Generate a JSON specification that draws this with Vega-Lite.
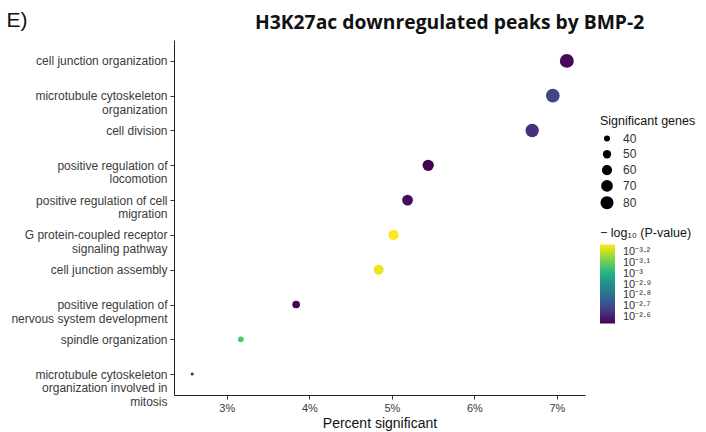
{
  "$schema": "https://vega.github.io/schema/vega-lite/v6.json",
  "autosize": {"type": "none"},
  "width": 411,
  "height": 355,
  "padding": {"left": 174, "top": 40, "right": 121, "bottom": 37},
  "background": "white",
  "title": {
    "text": "H3K27ac downregulated peaks by BMP-2",
    "anchor": "start",
    "frame": "group",
    "dx": 81,
    "offset": -24,
    "font": "Open Sans",
    "fontSize": 19.3,
    "fontWeight": "bold",
    "color": "#111111"
  },
  "config": {
    "view": {"stroke": null},
    "font": "Liberation Sans",
    "axis": {
      "grid": false,
      "domainColor": "#222222",
      "tickColor": "#333333",
      "tickSize": 4,
      "labelColor": "#3a3a3a",
      "labelFontSize": 11,
      "labelFont": "Liberation Sans"
    }
  },
  "data": {
    "values": [
      {"term": "cell junction organization", "pct": 7.12, "genes": 87, "nlp": 2.555},
      {"term": "microtubule cytoskeleton|organization", "pct": 6.95, "genes": 85, "nlp": 2.69},
      {"term": "cell division", "pct": 6.70, "genes": 82, "nlp": 2.64},
      {"term": "positive regulation of|locomotion", "pct": 5.44, "genes": 67, "nlp": 2.54},
      {"term": "positive regulation of cell|migration", "pct": 5.19, "genes": 64, "nlp": 2.56},
      {"term": "G protein-coupled receptor|signaling pathway", "pct": 5.02, "genes": 61, "nlp": 3.27},
      {"term": "cell junction assembly", "pct": 4.84, "genes": 59, "nlp": 3.25},
      {"term": "positive regulation of|nervous system development", "pct": 3.84, "genes": 47, "nlp": 2.55},
      {"term": "spindle organization", "pct": 3.17, "genes": 39, "nlp": 3.07},
      {"term": "microtubule cytoskeleton|organization involved in|mitosis", "pct": 2.58, "genes": 32, "nlp": 2.59}
    ]
  },
  "mark": {"type": "point", "filled": true, "opacity": 1, "shape": "circle"},
  "encoding": {
    "x": {
      "field": "pct",
      "type": "quantitative",
      "scale": {"domain": [2.36, 7.34], "nice": false, "zero": false},
      "axis": {
        "values": [3, 4, 5, 6, 7],
        "labelExpr": "datum.value + '%'",
        "title": "Percent significant",
        "titleFontSize": 14,
        "titleFontWeight": "normal",
        "titleColor": "#111111",
        "titlePadding": 3,
        "labelPadding": 3
      }
    },
    "y": {
      "field": "term",
      "type": "nominal",
      "sort": null,
      "scale": {"type": "point", "padding": 0.6},
      "axis": {
        "labelExpr": "split(datum.label, '|')",
        "labelFontSize": 12,
        "labelLineHeight": 13.5,
        "labelLimit": 200,
        "labelPadding": 3,
        "title": "E)",
        "titleAngle": 0,
        "titleX": -168,
        "titleY": -20,
        "titleAlign": "left",
        "titleBaseline": "middle",
        "titleFontSize": 21,
        "titleFontWeight": "normal",
        "titleColor": "#111111"
      }
    },
    "size": {
      "field": "genes",
      "type": "quantitative",
      "scale": {"domain": [32, 87], "range": [9, 195], "zero": false},
      "legend": {
        "title": "Significant genes",
        "values": [40, 50, 60, 70, 80],
        "orient": "none",
        "legendX": 426,
        "legendY": 75,
        "titleFontSize": 12.5,
        "titleFontWeight": "normal",
        "titleColor": "#111111",
        "labelFontSize": 12,
        "labelColor": "#333333",
        "labelOffset": 9,
        "symbolFillColor": "black",
        "symbolStrokeWidth": 0,
        "symbolOpacity": 1,
        "rowPadding": 3.8
      }
    },
    "color": {
      "field": "nlp",
      "type": "quantitative",
      "scale": {"scheme": "viridis", "domain": [2.54, 3.27]},
      "legend": {
        "title": "− log₁₀ (P-value)",
        "values": [2.6, 2.7, 2.8, 2.9, 3.0, 3.1, 3.2],
        "labelExpr": "'10⁻' + replace(replace(replace(replace(replace(replace(replace(replace(replace(replace(replace(format(datum.value, '.1~f'), '.', '·'), '0', '⁰'), '1', '¹'), '2', '²'), '3', '³'), '6', '⁶'), '7', '⁷'), '8', '⁸'), '9', '⁹'), '4', '⁴'), '5', '⁵')",
        "orient": "none",
        "legendX": 426,
        "legendY": 187,
        "gradientLength": 79,
        "gradientThickness": 15,
        "titleFontSize": 12.5,
        "titleFontWeight": "normal",
        "titleColor": "#111111",
        "labelFontSize": 11,
        "labelColor": "#333333",
        "labelOffset": 8,
        "labelOverlap": false
      }
    }
  }
}
